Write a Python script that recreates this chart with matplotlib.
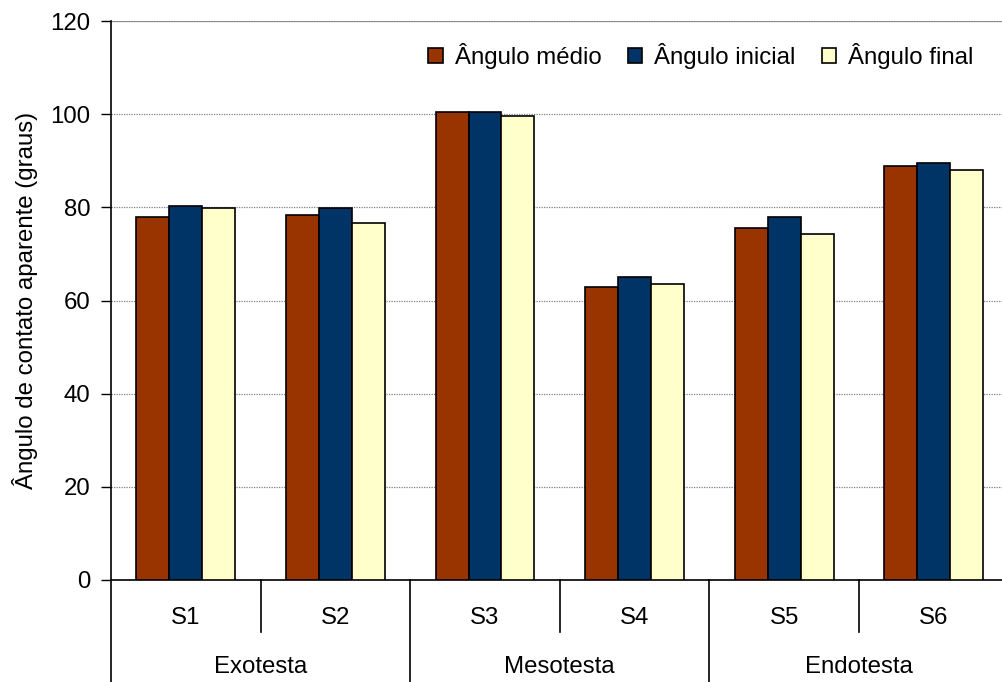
import numpy as np
import matplotlib
matplotlib.use('Agg')
import matplotlib.pyplot as plt
import matplotlib.transforms as mtransforms

plt.rcParams['font.family'] = ['Liberation Sans', 'DejaVu Sans']

# data
samples = ['S1', 'S2', 'S3', 'S4', 'S5', 'S6']
groups = ['Exotesta', 'Mesotesta', 'Endotesta']
angulo_medio = [78.0, 78.3, 100.4, 62.8, 75.5, 88.8]
angulo_inicial = [80.2, 79.8, 100.4, 65.0, 78.0, 89.5]
angulo_final = [79.8, 76.6, 99.6, 63.6, 74.3, 88.1]
series_names = ['Ângulo médio', 'Ângulo inicial', 'Ângulo final']
colors = ['#993300', '#003366', '#FFFFCC']

fs = 17.3

fig = plt.figure(figsize=(10.02, 6.82), dpi=100)
# right edge of the plot area is cropped in the reference
ax = fig.add_axes([111/1002, 1 - 580/682, 897.6/1002, 559/682])

x = np.arange(len(samples))
w = 0.22
for i, (vals, name, c) in enumerate(zip([angulo_medio, angulo_inicial, angulo_final], series_names, colors)):
    ax.bar(x + (i - 1) * w, vals, w, color=c, edgecolor='black', linewidth=1.2,
           label=name, zorder=3)

ax.set_xlim(-0.5, len(samples) - 0.5)
ax.set_ylim(0, 120)
ax.set_yticks(np.arange(0, 121, 20))
ax.tick_params(axis='y', labelsize=fs, direction='out', length=7, width=1, pad=8)
ax.set_xticks([])
ax.yaxis.grid(True, color='#808080', linestyle=(0, (1, 1)), linewidth=0.9, zorder=0)
ax.axhline(120, color='#909090', linewidth=1.5, zorder=1)

ax.spines['top'].set_visible(False)
ax.spines['right'].set_visible(False)
ax.spines['left'].set_linewidth(1.2)
ax.spines['bottom'].set_linewidth(1.2)

ax.set_ylabel('Ângulo de contato aparente (graus)', fontsize=fs, labelpad=9)

# category axis below the plot
trans = mtransforms.blended_transform_factory(ax.transData, ax.transAxes)
for b in np.arange(-0.5, len(samples), 1.0):
    if b in (0.5, 2.5, 4.5):
        y0 = -52 / 559
    else:
        y0 = -102 / 559
    ax.plot([b, b], [0, y0], color='black', linewidth=1.2, transform=trans, clip_on=False)

for xi, s in zip(x, samples):
    ax.text(xi, -38 / 559, s, transform=trans, ha='center', va='center', fontsize=fs)
for gi, g in enumerate(groups):
    ax.text(gi * 2 + 0.5, -87 / 559, g, transform=trans, ha='center', va='center', fontsize=fs)

ax.legend(loc='center', bbox_to_anchor=(701/1002, 1 - 56/682), bbox_transform=fig.transFigure,
          ncol=3, frameon=False, fontsize=fs, handlelength=0.6, handleheight=0.6,
          handletextpad=0.5, columnspacing=1.1, borderpad=0)

fig.savefig('out.png', dpi=100)
